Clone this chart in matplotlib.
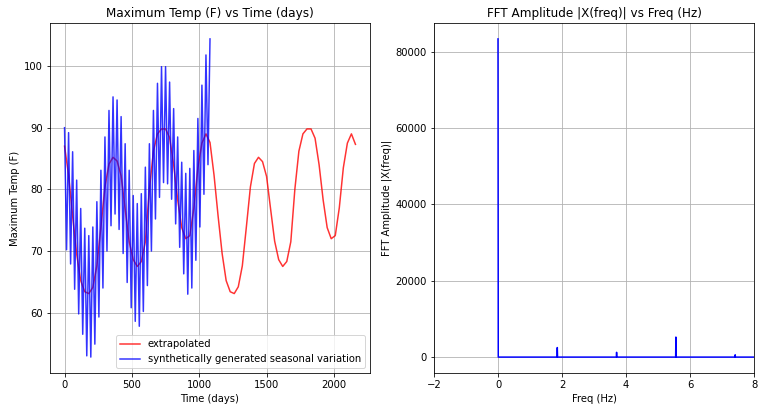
import numpy as np
import matplotlib
matplotlib.use('Agg')
import matplotlib.pyplot as plt

#extrapolated max temp (F), sampled every 30 days
red_days = np.arange(0, 2161, 30)
red_temps = [87.0, 82.3, 75.7, 69.5, 65.2, 63.4, 63.1, 64.1, 67.6, 73.9,
             80.4, 84.1, 85.2, 84.6, 82.2, 76.8, 71.5, 68.6, 67.5, 68.3,
             71.5, 80.0, 86.2, 89.0, 89.8, 89.8, 88.4, 84.0, 78.3, 73.8,
             72.0, 72.5, 76.9, 83.5, 87.5, 89.0, 87.6,
             82.3, 75.7, 69.6, 65.2, 63.4, 63.1, 64.2, 67.6, 73.9, 80.4,
             84.2, 85.2, 84.5, 82.1, 76.8, 71.6, 68.6, 67.5, 68.3, 71.5,
             80.0, 86.2, 89.0, 89.8, 89.8, 88.3, 84.0, 78.3, 73.8, 72.0,
             72.5, 77.0, 83.5, 87.5, 89.0, 87.3]

#synthetic seasonal data, peaks every 30 days and troughs in between
peak_days = np.arange(0, 1081, 30)
peak_temps = [90.0, 89.2, 86.1, 81.5, 76.9, 73.7, 72.5, 73.9, 78.0, 83.1,
              88.5, 92.8, 95.0, 94.5, 91.8, 87.4, 83.1, 79.0, 77.7, 79.3,
              83.6, 87.4, 92.8, 97.2, 99.9, 99.9, 97.4, 93.1, 88.5, 84.4,
              82.6, 83.4, 86.3, 91.5, 96.9, 101.8, 104.4]
trough_days = np.arange(15, 1066, 30)
trough_temps = [70.2, 67.9, 63.8, 59.8, 56.5, 53.0, 52.8, 54.9, 59.3, 64.0,
                70.0, 74.1, 76.0, 73.5, 69.6, 64.9, 60.8, 58.6, 57.8, 60.2,
                64.4, 70.0, 75.2, 78.7, 81.1, 80.9, 78.4, 74.4, 70.6, 66.3,
                63.0, 64.0, 68.5, 73.9, 79.2, 84.0]

#fft amplitude
fft_freq = [0.0, 0.008, 1.845, 1.853, 1.861, 3.698, 3.706, 3.714,
            5.551, 5.559, 5.567, 7.404, 7.412, 7.420, 9.0]
fft_amp = [83400, 0, 0, 2500, 0, 0, 1250, 0, 0, 5250, 0, 0, 600, 0, 0]

#merge peaks and troughs into one series
blue_days = np.concatenate([peak_days, trough_days])
blue_temps = np.concatenate([peak_temps, trough_temps])
order = np.argsort(blue_days)
blue_days = blue_days[order]
blue_temps = blue_temps[order]

fig = plt.figure(figsize=(758 / 72, 406 / 72), dpi=72)
ax1 = fig.add_axes([50 / 758, 33 / 406, 320 / 758, 350 / 406])
ax2 = fig.add_axes([434 / 758, 33 / 406, 320 / 758, 350 / 406])

ax1.plot(red_days, red_temps, color='red', alpha=0.8, lw=1.5, label='extrapolated')
ax1.plot(blue_days, blue_temps, color='blue', alpha=0.8, lw=1.5,
         label='synthetically generated seasonal variation')
ax1.set_title('Maximum Temp (F) vs Time (days)')
ax1.set_xlabel('Time (days)')
ax1.set_ylabel('Maximum Temp (F)')
ax1.grid(True)
ax1.legend(loc='lower right')

ax2.plot(fft_freq, fft_amp, color='blue', lw=1.5)
ax2.set_xlim(-2, 8)
ax2.set_title('FFT Amplitude |X(freq)| vs Freq (Hz)')
ax2.set_xlabel('Freq (Hz)')
ax2.set_ylabel('FFT Amplitude |X(freq)|')
ax2.grid(True)

fig.savefig('out.png', dpi=72)
